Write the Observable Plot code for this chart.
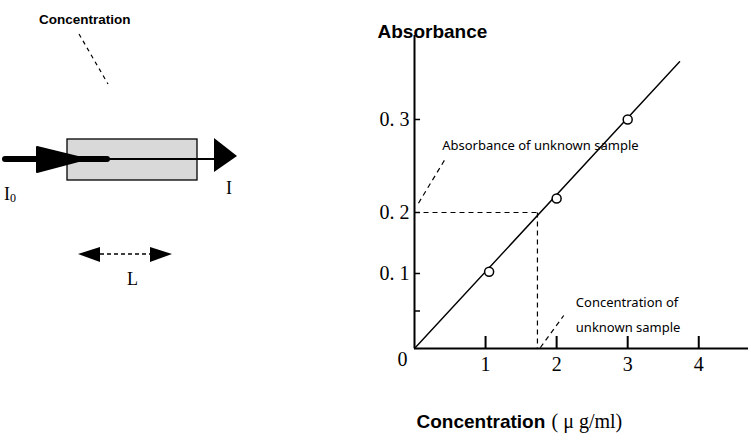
<!DOCTYPE html>
<html><head><meta charset="utf-8">
<script src="https://cdn.jsdelivr.net/npm/d3@7"></script>
<script src="https://cdn.jsdelivr.net/npm/@observablehq/plot@0.6"></script>
<style>body{margin:0;background:#fff} #chart svg{display:block}</style>
</head><body><div id="chart"></div>
<script>
// Calibration standards (concentration µg/ml, absorbance)
const concentrations = [1.05, 2.0, 3.0];
const absorbances = [0.103, 0.215, 0.30];
// Calibration line end points
const fitX = [0, 3.73];
const fitY = [0, 0.362];
// Unknown sample
const unknownConcentration = 1.73;
const unknownAbsorbance = 0.2;
// Axis ticks
const xTicks = [1, 2, 3, 4];
const xTickLabels = ["1", "2", "3", "4"];
const yTicks = [0.1, 0.2, 0.3];
const yTickLabels = ["0. 1", "0. 2", "0. 3"];
const yAllTicks = [0.05, 0.1, 0.2, 0.3];
// Annotation texts and their anchors (data coordinates)
const annoTexts = ["Absorbance of unknown sample", "Concentration of", "unknown sample"];
const annoX = [0.39, 2.27, 2.27];
const annoY = [0.272, 0.061, 0.027];
const leaderX1 = [0.056, 1.77], leaderY1 = [0.21, 0.001];
const leaderX2 = [0.436, 2.10], leaderY2 = [0.258, 0.044];

const points = concentrations.map((c, i) => ({c, a: absorbances[i]}));
const fit = fitX.map((x, i) => ({x, y: fitY[i]}));
const annos = annoTexts.map((t, i) => ({t, x: annoX[i], y: annoY[i]}));
const leaders = leaderX1.map((x1, i) => ({x1, y1: leaderY1[i], x2: leaderX2[i], y2: leaderY2[i]}));

const serif = "Liberation Serif, DejaVu Serif, serif";
const sans = "Noto Sans, Liberation Sans, sans-serif";

const chart = Plot.plot({
  width: 751, height: 440,
  marginLeft: 414, marginRight: 3, marginTop: 35, marginBottom: 92,
  x: {type: "linear", domain: [0, 4.7]},
  y: {type: "linear", domain: [0, 0.1, 0.2, 0.3], range: [348, 273, 212, 119]},
  style: {background: "#fff", overflow: "visible"},
  marks: [
    Plot.ruleX([0], {stroke: "#000", strokeWidth: 2}),
    Plot.ruleY([0], {stroke: "#000", strokeWidth: 2}),
    Plot.ruleY(yAllTicks, {y: d => d, x1: 0, x2: 0.085, stroke: "#000", strokeWidth: 1.5}),
    Plot.ruleX(xTicks, {x: d => d, y1: 0, y2: 0.016, stroke: "#000", strokeWidth: 2}),
    Plot.axisY({ticks: yTicks, tickSize: 0, tickPadding: 5, label: null,
      tickFormat: d => yTickLabels[yTicks.indexOf(d)], fontSize: 20, fontFamily: serif, fill: "#000"}),
    Plot.axisX({ticks: xTicks, tickSize: 0, tickPadding: 8, label: null,
      tickFormat: d => xTickLabels[xTicks.indexOf(d)], fontSize: 20, fontFamily: serif, fill: "#000"}),
    Plot.text(["0"], {x: 0, y: 0, dx: -12, dy: 11, fontSize: 20, fontFamily: serif, fill: "#000"}),
    // dashed lines for unknown sample
    Plot.link([{x1: 0, y1: unknownAbsorbance, x2: unknownConcentration, y2: unknownAbsorbance},
               {x1: unknownConcentration, y1: unknownAbsorbance, x2: unknownConcentration, y2: 0}],
      {x1: "x1", y1: "y1", x2: "x2", y2: "y2", stroke: "#000", strokeWidth: 1.2, strokeDasharray: "5,4"}),
    Plot.line(fit, {x: "x", y: "y", stroke: "#000", strokeWidth: 1.4}),
    Plot.dot(points, {x: "c", y: "a", r: 4.5, fill: "#fff", stroke: "#000", strokeWidth: 1.5}),
    Plot.link(leaders, {x1: "x1", y1: "y1", x2: "x2", y2: "y2", stroke: "#000", strokeWidth: 1.2, strokeDasharray: "5,4"}),
    Plot.text(annos, {x: "x", y: "y", text: "t", textAnchor: "start", fontSize: 13, fontFamily: sans, fill: "#000"}),
    Plot.text(["Absorbance"], {frameAnchor: "top-left", dx: -37, dy: 2, textAnchor: "start", lineAnchor: "bottom", fontSize: 19, fontWeight: "bold", fontFamily: "Liberation Sans, sans-serif", fill: "#000"}),
    Plot.text(["Concentration"], {frameAnchor: "bottom-left", dx: 2, dy: 79, textAnchor: "start", fontSize: 19, fontWeight: "bold", fontFamily: "Liberation Sans, sans-serif", fill: "#000"}),
    Plot.text(["( μ g/ml)"], {frameAnchor: "bottom-left", dx: 137, dy: 79, textAnchor: "start", fontSize: 20, fontFamily: serif, fill: "#000"})
  ]
});
document.getElementById("chart").append(chart);

// Left illustrative diagram of the cuvette
const svg = d3.select(chart);
const g = svg.append("g").attr("text-anchor", "start");
g.append("text").attr("x", 39).attr("y", 24).attr("font-family", "Liberation Sans, sans-serif").attr("font-weight", "bold").attr("font-size", 13.5).attr("fill", "#000").text("Concentration");
g.append("line").attr("x1", 79).attr("y1", 34).attr("x2", 108).attr("y2", 84).attr("stroke", "#000").attr("stroke-width", 1.2).attr("stroke-dasharray", "4,4");
g.append("rect").attr("x", 67).attr("y", 139).attr("width", 130).attr("height", 41).attr("fill", "#d9d9d9").attr("stroke", "#000").attr("stroke-width", 1.3);
g.append("line").attr("x1", 107).attr("y1", 159).attr("x2", 216).attr("y2", 159).attr("stroke", "#000").attr("stroke-width", 2);
g.append("line").attr("x1", 5).attr("y1", 159).attr("x2", 107).attr("y2", 159).attr("stroke", "#000").attr("stroke-width", 6).attr("stroke-linecap", "round");
g.append("path").attr("d", "M37,147 L86,159 L37,172 Z").attr("fill", "#000").attr("stroke", "#000").attr("stroke-width", 2).attr("stroke-linejoin", "round");
g.append("path").attr("d", "M214,138 L237,156 L214,172 Z").attr("fill", "#000");
g.append("text").attr("x", 4).attr("y", 200).attr("font-family", serif).attr("font-size", 18).attr("fill", "#000").text("I");
g.append("text").attr("x", 10).attr("y", 202).attr("font-family", serif).attr("font-size", 12).attr("fill", "#000").text("0");
g.append("text").attr("x", 226).attr("y", 194).attr("font-family", serif).attr("font-size", 18).attr("fill", "#000").text("I");
g.append("line").attr("x1", 100).attr("y1", 254).attr("x2", 150).attr("y2", 254).attr("stroke", "#000").attr("stroke-width", 1.5).attr("stroke-dasharray", "4,3");
g.append("path").attr("d", "M78,254 L100,247 L100,262 Z").attr("fill", "#000");
g.append("path").attr("d", "M172,254 L150,247 L150,262 Z").attr("fill", "#000");
g.append("text").attr("x", 127).attr("y", 285).attr("font-family", serif).attr("font-size", 18).attr("fill", "#000").text("L");
</script></body></html>
